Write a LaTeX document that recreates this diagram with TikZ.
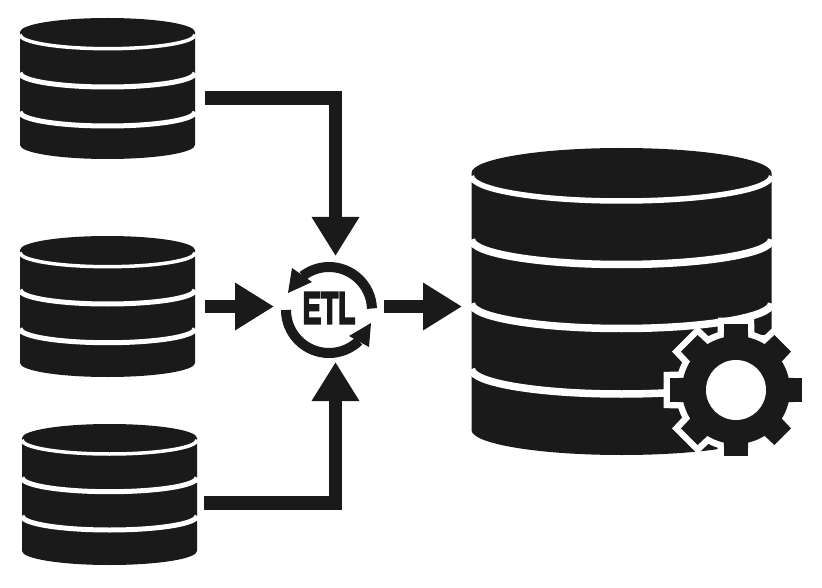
\documentclass[tikz,border=0pt]{standalone}
\usepackage{fontspec}
\setmainfont{Liberation Sans}
\newfontfamily\etlfont[FakeBold=5]{Liberation Sans Bold}
\usetikzlibrary{arrows.meta,calc}
\definecolor{ink}{HTML}{1A1A1A}
\tikzset{
  conn/.style={draw=ink,line width=13.5pt,line join=miter,-{Triangle[length=39pt,width=45pt]}},
  ring/.style={draw=ink,line width=10pt},
  anchorbox/.style={inner sep=0pt,outer sep=0pt,rectangle},
  gearpath/.style={insert path={(-13:54) foreach \a in {0,45,...,315}{
     -- (\a-10.1:67) -- (\a+10.1:67) -- (\a+13:54)
     arc[start angle=\a+13,end angle=\a+32,radius=54]} -- cycle}},
}
% #1 left x, #2 half width, #3 top ellipse centre y, #4 bottom side y, #5 ry, #6 band list y/width
\newcommand{\dbstack}[6]{%
  \fill[ink] (#1,-#3) arc[start angle=180,end angle=0,x radius=#2,y radius=#5]
     -- ++(0,-#4+#3) arc[start angle=0,end angle=-180,x radius=#2,y radius=#5] -- cycle;
  \foreach \yy/\ww in {#6}{
    \draw[white,line width=\ww pt] (#1,-\yy) arc[start angle=180,end angle=360,x radius=#2,y radius=#5];
  }
}
\begin{document}
\begin{tikzpicture}[x=1pt,y=1pt]
\useasboundingbox (0,0) rectangle (822,-588);
\fill[white] (0,0) rectangle (822,-588);
% sources
\dbstack{20}{87.5}{32}{145}{14}{34.7/3.5,73/5,112/5}
\dbstack{20}{87.5}{250}{363}{14}{252.7/3.5,290/5,328.7/5}
\dbstack{22}{87.5}{438}{551}{14}{440/3.5,477.7/5,516/5}
% target
\dbstack{471.5}{150}{173}{430}{25}{176/5.5,239.5/7.5,303.5/7.5,369/7.5}
% anchors for nodes
\node[anchorbox,minimum width=175pt,minimum height=141pt] (s1) at (107.5,-88.5) {};
\node[anchorbox,minimum width=175pt,minimum height=141pt] (s2) at (107.5,-306.5) {};
\node[anchorbox,minimum width=175pt,minimum height=141pt] (s3) at (109.5,-494.5) {};
\node[anchorbox,minimum width=300pt,minimum height=307pt] (big) at (621.5,-302.5) {};
\node[anchorbox,minimum width=110pt,minimum height=106pt] (etl) at (329,-309) {};
% connectors
\draw[conn] ($(s1.east)+(9.5,-9.5)$) -| ($(etl.north)+(6.5,0)$);
\draw[conn] ($(s2.east)+(10,0)$) -- ($(etl.west)+(0,2.5)$);
\draw[conn] ($(s3.east)+(7,-8.5)$) -| ($(etl.south)+(6.5,0)$);
\draw[conn] ($(etl.east)+(0,2.5)$) -- ($(big.west)+(-9.5,-4)$);
% ETL cycle
\draw[ring] (329,-310) ++(2:43) arc[start angle=2,end angle=128,radius=43];
\fill[ink] (288,-293) -- (292,-268) -- (312,-282) -- cycle;
\draw[ring] (329,-310) ++(180:43) arc[start angle=180,end angle=314,radius=43];
\fill[ink] (371,-323) -- (369,-347) -- (349,-336) -- cycle;
\node[font=\etlfont\fontsize{45}{45}\selectfont,xscale=0.62,inner sep=0pt,text=ink] (etltext) at (329,-308) {ETL};
% gear
\fill[white] (745,-335) rectangle (780,-462);
\draw[white,line width=13pt,line join=miter,shift={(736,-390)},gearpath];
\fill[ink,shift={(736,-390)},gearpath];
\fill[white] (736,-390) circle[radius=30];
\end{tikzpicture}
\end{document}
